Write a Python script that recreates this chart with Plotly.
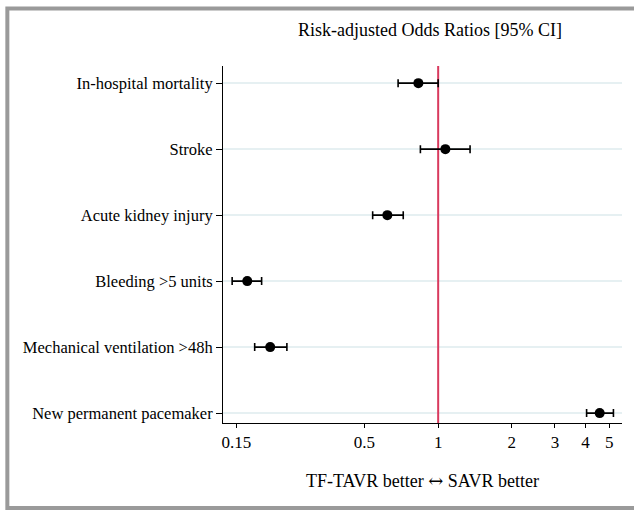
import plotly.graph_objects as go

outcomes = ["In-hospital mortality", "Stroke", "Acute kidney injury",
            "Bleeding >5 units", "Mechanical ventilation >48h", "New permanent pacemaker"]
odds_ratio = [0.83, 1.07, 0.62, 0.166, 0.206, 4.57]
ci_low = [0.686, 0.846, 0.54, 0.144, 0.178, 4.04]
ci_high = [1.0, 1.35, 0.72, 0.19, 0.241, 5.2]
x_ticks = [0.15, 0.5, 1, 2, 3, 4, 5]
x_tick_labels = ["0.15", "0.5", "1", "2", "3", "4", "5"]
ref_value = 1

FONT = "Liberation Serif"
ypos = list(range(len(outcomes)))
yrange = [len(outcomes) - 1 + 0.15, -0.26]

fig = go.Figure()

# reference line at OR = 1
fig.add_trace(go.Scatter(
    x=[ref_value, ref_value], y=yrange, mode="lines",
    line=dict(color="#d93a5e", width=2), hoverinfo="skip", showlegend=False,
))

fig.add_trace(go.Scatter(
    x=odds_ratio, y=ypos, mode="markers",
    marker=dict(color="black", size=10),
    error_x=dict(type="data", symmetric=False,
                 array=[h - o for h, o in zip(ci_high, odds_ratio)],
                 arrayminus=[o - l for o, l in zip(odds_ratio, ci_low)],
                 color="black", thickness=1.6, width=4),
    showlegend=False,
))

fig.update_layout(
    width=634, height=510,
    margin=dict(l=223, r=12, t=66, b=87),
    paper_bgcolor="white", plot_bgcolor="white",
    font=dict(family=FONT, color="black", size=16),
    xaxis=dict(
        type="log", range=[-0.879, 0.751],
        tickvals=x_ticks, ticktext=x_tick_labels,
        ticks="outside", ticklen=4, tickcolor="black", tickwidth=1,
        showline=True, linecolor="black", linewidth=1,
        showgrid=False, zeroline=False,
        tickfont=dict(size=17, family=FONT),
        title=dict(text="TF-TAVR better <span style='font-family:DejaVu Serif;font-size:18px'>\u2194</span> SAVR better",
                   font=dict(size=18, family=FONT), standoff=22),
    ),
    yaxis=dict(
        range=yrange, tickvals=ypos, ticktext=outcomes,
        ticks="outside", ticklen=6, tickcolor="black", tickwidth=1,
        showline=True, linecolor="black", linewidth=1,
        showgrid=True, gridcolor="#e6f0f2", gridwidth=1.5,
        zeroline=False, tickfont=dict(size=16.5, family=FONT),
    ),
    annotations=[dict(
        text="Risk-adjusted Odds Ratios [95% CI]", xref="paper", yref="paper",
        x=0.52, y=1.10, xanchor="center", yanchor="middle", showarrow=False,
        font=dict(size=18, family=FONT, color="black"),
    )],
    shapes=[dict(
        type="rect", xref="paper", yref="paper",
        x0=-0.5405, x1=1.2, y0=-0.238, y1=1.161,
        line=dict(color="#9a9a9a", width=4), fillcolor="rgba(0,0,0,0)", layer="below",
    )],
)

fig.write_html("out.html")
